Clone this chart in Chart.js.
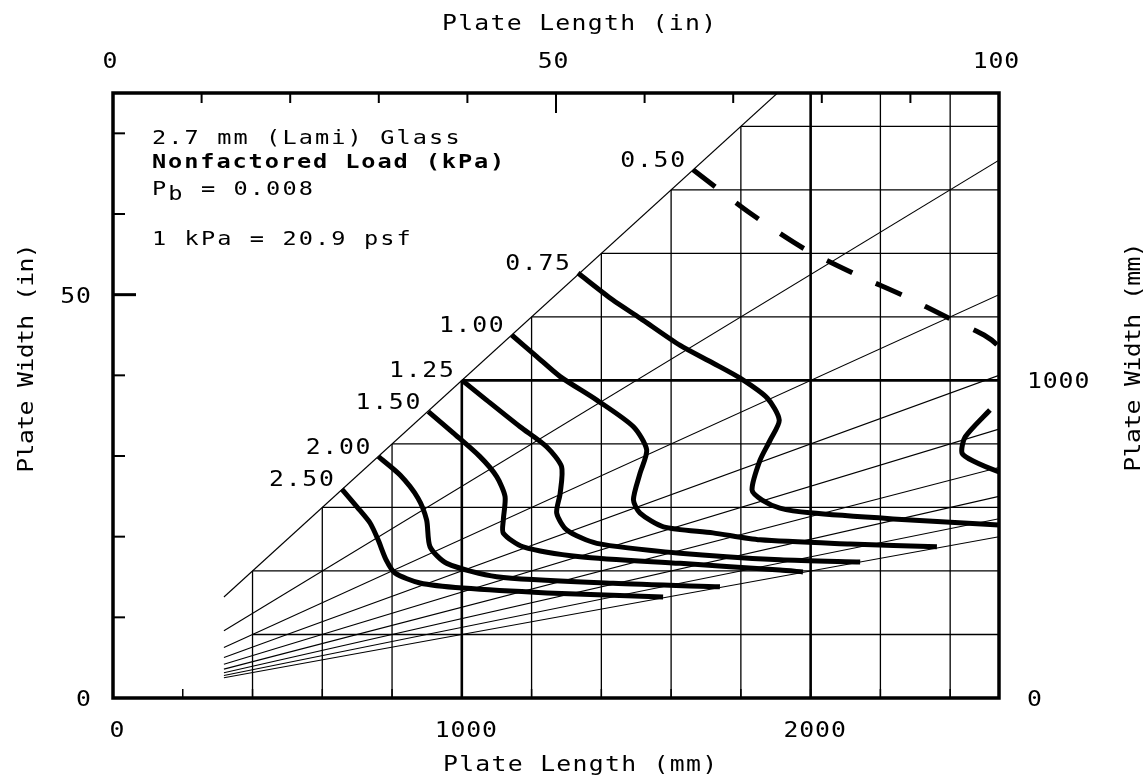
<!DOCTYPE html>
<html>
<head>
<meta charset="utf-8">
<title>2.7 mm (Lami) Glass - Nonfactored Load</title>
<script src="https://cdn.jsdelivr.net/npm/chart.js@4.4.1/dist/chart.umd.min.js"></script>
<style>
  html, body { margin: 0; padding: 0; background: #fff; }
</style>
</head>
<body>
<canvas id="loadChart" width="1146" height="781"></canvas>
<script>
// Plate length / width in mm
var lengthMax = 2540;   // 100 in
var widthMax = 1905;    // 75 in
var MM_PER_IN = 25.4;

// grid (staircase below the square line)
var gridLength = [400, 600, 800, 1000, 1200, 1400, 1600, 1800, 2000, 2200, 2400];
var gridWidth = [200, 400, 600, 800, 1000, 1200, 1400, 1600, 1800];
var heavyLines = [1000, 2000];
var gridStart = 400;

// aspect ratio lines
var aspectRatios = [1, 1.5, 2, 2.5, 3, 3.5, 4, 4.5, 5];
var aspectStart = 318;

// tick labels
var bottomTicksMm = [0, 1000, 2000];
var topTicksIn = [0, 50, 100];
var leftTicksIn = [0, 50];
var rightTicksMm = [0, 1000];

// load contours (kPa)
var loadLabels = ['0.50', '0.75', '1.00', '1.25', '1.50', '2.00', '2.50'];

var load050Len = [1663, 1826, 1978, 2127, 2268, 2394, 2497, 2540, 2572, 2557, 2540];
var load050Wid = [1663, 1527, 1417, 1335, 1266, 1197, 1143, 1105, 1027, 970, 945];
var load050bLen = [2514, 2443, 2434, 2466, 2540, 2600];
var load050bWid = [907, 822, 771, 746, 712, 693];

var load075Len = [1333, 1433, 1511, 1626, 1721, 1798, 1876, 1910, 1884, 1855, 1832, 1861, 1912, 1998, 2236, 2540];
var load075Wid = [1338, 1253, 1196, 1110, 1054, 1007, 944, 875, 812, 749, 655, 623, 598, 583, 564, 545];

var load100Len = [1143, 1215, 1282, 1387, 1492, 1530, 1511, 1492, 1511, 1578, 1720, 1855, 2113, 2362];
var load100Wid = [1143, 1075, 1012, 938, 854, 781, 708, 624, 582, 539, 520, 498, 485, 476];

var load125Len = [1000, 1071, 1167, 1243, 1286, 1282, 1272, 1301, 1387, 1626, 1912, 2142];
var load125Wid = [1001, 938, 854, 791, 728, 645, 582, 529, 487, 456, 435, 428];

var load150Len = [904, 976, 1052, 1100, 1124, 1119, 1119, 1176, 1339, 1626, 1912, 1978];
var load150Wid = [902, 834, 760, 697, 634, 561, 519, 476, 445, 424, 403, 397];

var load200Len = [761, 823, 874, 899, 909, 957, 1100, 1434, 1740];
var load200Wid = [760, 702, 630, 561, 476, 424, 382, 361, 350];

var load250Len = [656, 700, 737, 760, 783, 808, 880, 1003, 1244, 1577];
var load250Wid = [658, 601, 551, 498, 435, 394, 362, 346, 331, 318];

var FONT = '"DejaVu Sans Mono", "Liberation Mono", monospace';
var STRETCH = 1.18;

function pairs(xs, ys) {
    return xs.map(function (v, i) { return { x: v, y: ys[i] }; });
}

// plotter style text: fixed advance per character, glyphs a little wider
function spacedText(ctx, str, x, y, adv, align) {
    var gw = ctx.measureText('0').width * STRETCH;
    var w = adv * (str.length - 1) + gw;
    var x0 = x;
    if (align === 'center') x0 = x - w / 2;
    if (align === 'right') x0 = x - w;
    ctx.textAlign = 'left';
    for (var i = 0; i < str.length; i++) {
        ctx.save();
        ctx.translate(x0 + i * adv, y);
        ctx.scale(STRETCH, 1);
        ctx.fillText(str[i], 0, 0);
        ctx.restore();
    }
}

var datasets = [];

aspectRatios.forEach(function (r) {
    var end = r === 1 ? widthMax : lengthMax;
    datasets.push({
        data: [{ x: aspectStart, y: aspectStart / r }, { x: end, y: end / r }],
        showLine: true,
        borderColor: '#000',
        borderWidth: 1.1,
        pointRadius: 0,
        tension: 0,
        clip: 0
    });
});

function curveSet(xs, ys, dashed) {
    return {
        data: pairs(xs, ys),
        showLine: true,
        borderColor: '#000',
        borderWidth: 5,
        borderCapStyle: 'butt',
        borderJoinStyle: 'round',
        borderDash: dashed ? [28, 26] : [],
        pointRadius: 0,
        tension: 0.25,
        clip: 0
    };
}

var curveList = [
    [load050Len, load050Wid],
    [load075Len, load075Wid],
    [load100Len, load100Wid],
    [load125Len, load125Wid],
    [load150Len, load150Wid],
    [load200Len, load200Wid],
    [load250Len, load250Wid]
];

datasets.push(curveSet(load050Len, load050Wid, true));
datasets.push(curveSet(load050bLen, load050bWid, false));
for (var c = 1; c < curveList.length; c++) {
    datasets.push(curveSet(curveList[c][0], curveList[c][1], false));
}

var stairGrid = {
    id: 'stairGrid',
    beforeDatasetsDraw: function (chart) {
        var ctx = chart.ctx, x = chart.scales.x, y = chart.scales.y;
        ctx.save();
        ctx.strokeStyle = '#000';
        gridLength.forEach(function (v) {
            ctx.lineWidth = heavyLines.indexOf(v) >= 0 ? 2.6 : 1.3;
            ctx.beginPath();
            ctx.moveTo(x.getPixelForValue(v), y.getPixelForValue(0));
            ctx.lineTo(x.getPixelForValue(v), y.getPixelForValue(Math.min(v, widthMax)));
            ctx.stroke();
        });
        gridWidth.forEach(function (v) {
            ctx.lineWidth = heavyLines.indexOf(v) >= 0 ? 2.6 : 1.3;
            ctx.beginPath();
            ctx.moveTo(x.getPixelForValue(Math.max(v, gridStart)), y.getPixelForValue(v));
            ctx.lineTo(x.getPixelForValue(lengthMax), y.getPixelForValue(v));
            ctx.stroke();
        });
        ctx.restore();
    }
};

var frameAndText = {
    id: 'frameAndText',
    afterDraw: function (chart) {
        var ctx = chart.ctx, x = chart.scales.x, y = chart.scales.y;
        var a = chart.chartArea;
        ctx.save();
        ctx.strokeStyle = '#000';
        ctx.fillStyle = '#000';

        // frame
        ctx.lineWidth = 3.5;
        ctx.strokeRect(a.left, a.top, a.right - a.left, a.bottom - a.top);

        // top ticks (inches)
        ctx.lineWidth = 2;
        for (var t = 10; t < 100; t += 10) {
            var px = x.getPixelForValue(t * MM_PER_IN);
            ctx.beginPath();
            ctx.moveTo(px, a.top);
            ctx.lineTo(px, a.top + (t === 50 ? 20 : 10));
            ctx.stroke();
        }
        // left ticks (inches)
        for (var s = 10; s < 75; s += 10) {
            var py = y.getPixelForValue(s * MM_PER_IN);
            ctx.lineWidth = s === 50 ? 3 : 2;
            ctx.beginPath();
            ctx.moveTo(a.left, py);
            ctx.lineTo(a.left + (s === 50 ? 23 : 12), py);
            ctx.stroke();
        }
        // bottom ticks (mm)
        ctx.lineWidth = 1.5;
        for (var b = 200; b < lengthMax; b += 200) {
            var bx = x.getPixelForValue(b);
            ctx.beginPath();
            ctx.moveTo(bx, a.bottom);
            ctx.lineTo(bx, a.bottom - 9);
            ctx.stroke();
        }

        // tick labels
        ctx.font = '21px ' + FONT;
        ctx.textBaseline = 'alphabetic';
        bottomTicksMm.forEach(function (v) {
            spacedText(ctx, String(v), x.getPixelForValue(v) + 4, 737, 15.8, 'center');
        });
        topTicksIn.forEach(function (v) {
            spacedText(ctx, String(v), x.getPixelForValue(v * MM_PER_IN) - 3, 68, 15.8, 'center');
        });
        leftTicksIn.forEach(function (v) {
            spacedText(ctx, String(v), a.left - 22, y.getPixelForValue(v * MM_PER_IN) + 8, 15.8, 'right');
        });
        rightTicksMm.forEach(function (v) {
            spacedText(ctx, String(v), a.right + 28, y.getPixelForValue(v) + 8, 15.8, 'left');
        });

        // axis titles
        spacedText(ctx, 'Plate Length (mm)', 580, 771, 16.2, 'center');
        spacedText(ctx, 'Plate Length (in)', 579, 30, 16.2, 'center');

        ctx.save();
        ctx.translate(33, 358);
        ctx.rotate(-Math.PI / 2);
        spacedText(ctx, 'Plate Width (in)', 0, 0, 14.3, 'center');
        ctx.restore();

        ctx.save();
        ctx.translate(1140, 357);
        ctx.rotate(-Math.PI / 2);
        spacedText(ctx, 'Plate Width (mm)', 0, 0, 14.3, 'center');
        ctx.restore();

        // curve labels, just up-left of each curve start
        ctx.font = '21px ' + FONT;
        curveList.forEach(function (cv, i) {
            var sx = x.getPixelForValue(cv[0][0]);
            var sy = y.getPixelForValue(cv[1][0]);
            spacedText(ctx, loadLabels[i], sx - 8, sy - 3, 16.6, 'right');
        });

        // notes
        var nx = a.left + 39;
        ctx.font = '20px ' + FONT;
        spacedText(ctx, '2.7 mm (Lami) Glass', nx, a.top + 51, 16.3, 'left');
        ctx.font = 'bold 20px ' + FONT;
        spacedText(ctx, 'Nonfactored Load (kPa)', nx, a.top + 75, 16.1, 'left');
        ctx.font = '20px ' + FONT;
        spacedText(ctx, 'P', nx, a.top + 102, 16.3, 'left');
        spacedText(ctx, 'b', nx + 16.3, a.top + 107, 16.3, 'left');
        spacedText(ctx, ' = 0.008', nx + 32.6, a.top + 102, 16.3, 'left');
        spacedText(ctx, '1 kPa = 20.9 psf', nx, a.top + 152, 16.3, 'left');

        ctx.restore();
    }
};

new Chart(document.getElementById('loadChart'), {
    type: 'scatter',
    data: { datasets: datasets },
    options: {
        responsive: false,
        animation: false,
        layout: { padding: { left: 113, top: 93, right: 147, bottom: 83 } },
        scales: {
            x: { type: 'linear', min: 0, max: lengthMax, display: false },
            y: { type: 'linear', min: 0, max: widthMax, display: false }
        },
        plugins: {
            legend: { display: false },
            tooltip: { enabled: false }
        }
    },
    plugins: [stairGrid, frameAndText]
});
</script>
</body>
</html>
